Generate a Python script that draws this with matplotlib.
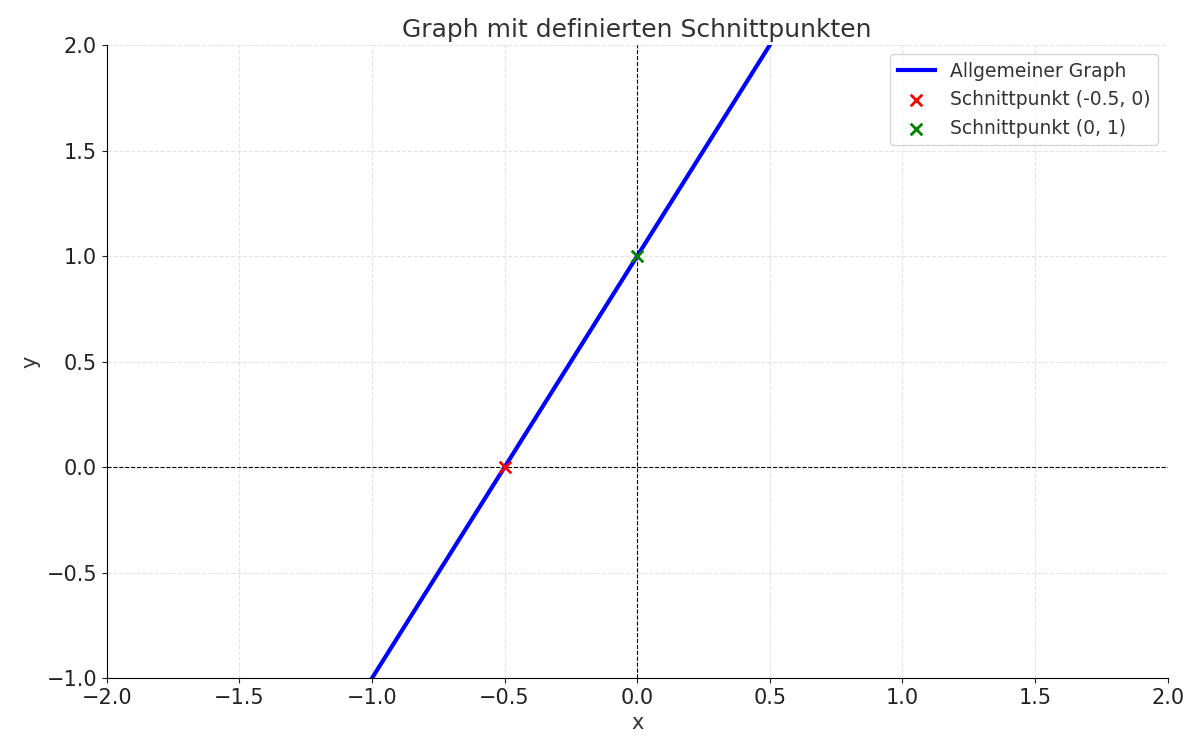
import numpy as np
import matplotlib.pyplot as plt

# Daten
x_line = [-2.0, 2.0]
y_line = [2 * v + 1 for v in x_line]
schnitt_x = [-0.5]
schnitt_y = [0]
achse_x = [0]
achse_y = [1]

fig, ax = plt.subplots(figsize=(12, 7.51), dpi=100)
fig.subplots_adjust(left=0.089, right=0.973, top=0.94, bottom=0.097)

ax.plot(x_line, y_line, color='blue', lw=3, label='Allgemeiner Graph')
ax.scatter(schnitt_x, schnitt_y, color='red', marker='x', s=70, lw=2, zorder=5,
           label='Schnittpunkt (-0.5, 0)')
ax.scatter(achse_x, achse_y, color='green', marker='x', s=70, lw=2, zorder=5,
           label='Schnittpunkt (0, 1)')

ax.axhline(0, color='black', lw=0.8, ls='--')
ax.axvline(0, color='black', lw=0.8, ls='--')

ax.set_xlim(-2, 2)
ax.set_ylim(-1, 2)
ax.set_xticks(np.arange(-2, 2.01, 0.5))
ax.set_yticks(np.arange(-1, 2.01, 0.5))
ax.grid(True, ls='--', color='#e5e5e5', lw=0.8)
ax.spines['top'].set_visible(False)
ax.spines['right'].set_visible(False)
ax.tick_params(labelsize=15, colors='#222222')

ax.set_title('Graph mit definierten Schnittpunkten', fontsize=18, color='#333333')
ax.set_xlabel('x', fontsize=15, color='#333333')
ax.set_ylabel('y', fontsize=15, color='#333333')
ax.legend(loc='upper right', fontsize=13.5, labelcolor='#333333')

fig.savefig('out.png')
